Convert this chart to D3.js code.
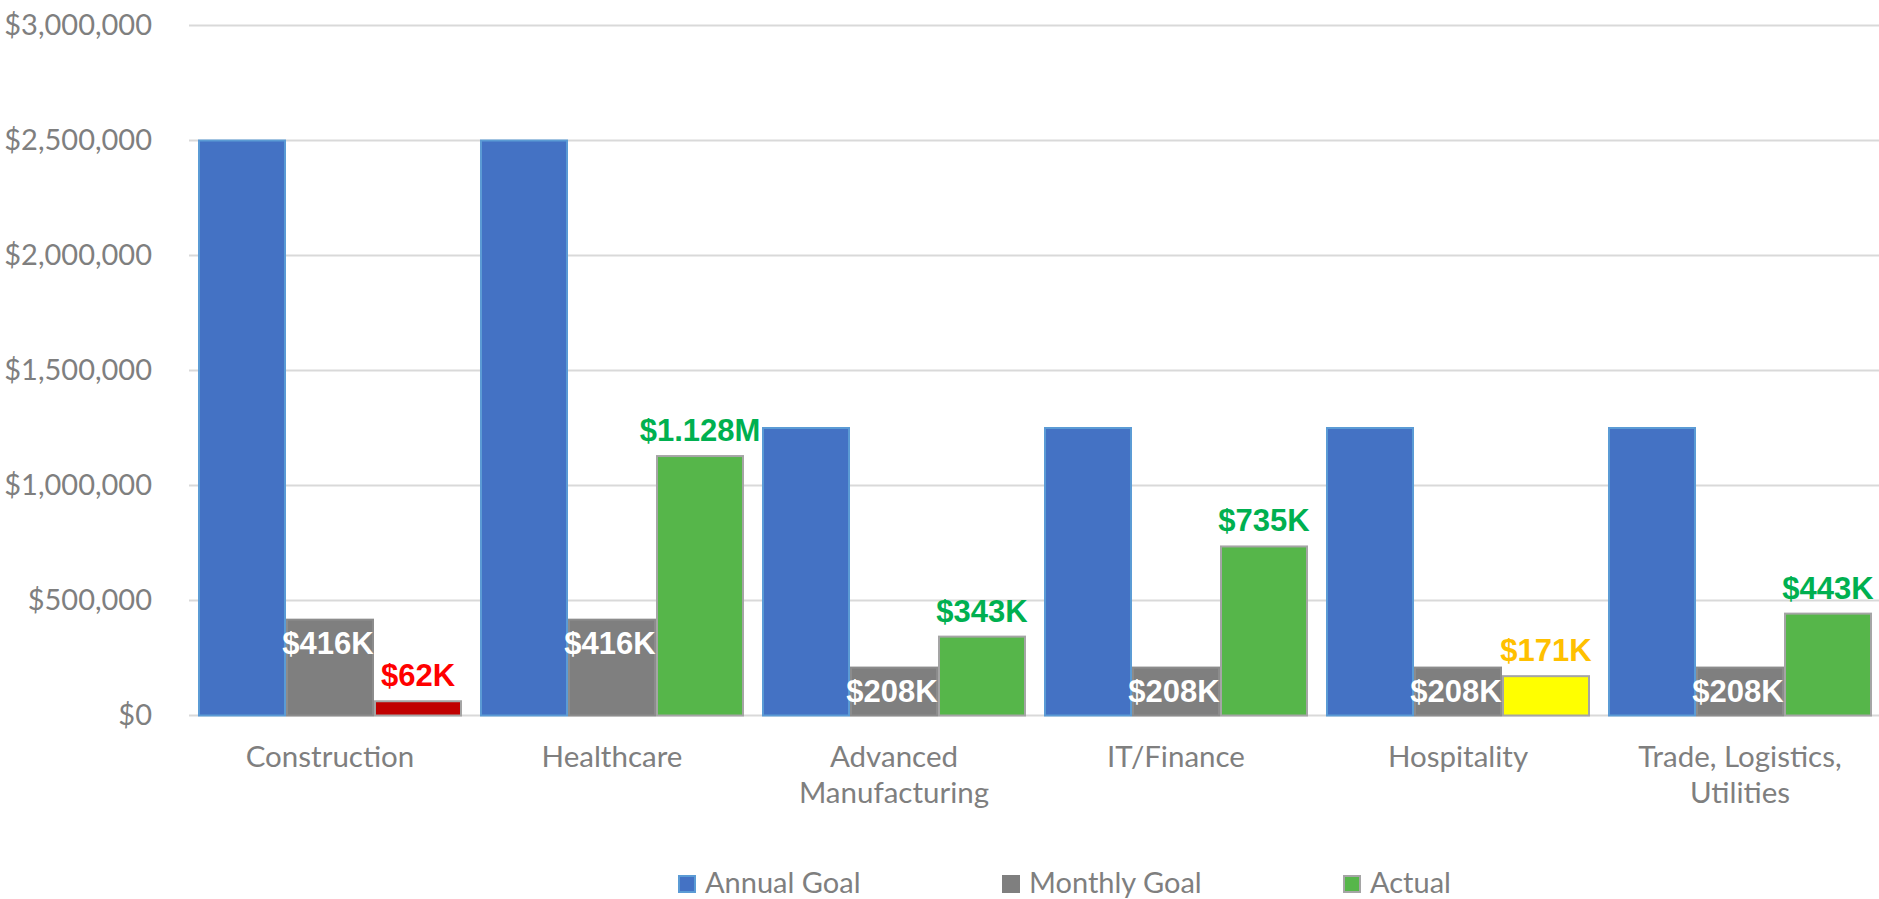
<!DOCTYPE html>
<html>
<head>
<meta charset="utf-8">
<script src="https://cdn.jsdelivr.net/npm/d3@7"></script>
<style>
  body { margin: 0; background: #ffffff; }
  svg { display: block; }
</style>
</head>
<body>
<div class="chart"></div>
<script>
// Données du graphique
const categories = ["Construction", "Healthcare", "Advanced Manufacturing", "IT/Finance", "Hospitality", "Trade, Logistics, Utilities"];
const categoryLines = [["Construction"], ["Healthcare"], ["Advanced", "Manufacturing"], ["IT/Finance"], ["Hospitality"], ["Trade, Logistics,", "Utilities"]];
const seriesNames = ["Annual Goal", "Monthly Goal", "Actual"];
const annualGoal = [2500000, 2500000, 1250000, 1250000, 1250000, 1250000];
const monthlyGoal = [416667, 416667, 208333, 208333, 208333, 208333];
const actual = [62000, 1128000, 343000, 735000, 171000, 443000];
const actualStatus = ["low", "ok", "ok", "ok", "mid", "ok"];
const yTicks = [0, 500000, 1000000, 1500000, 2000000, 2500000, 3000000];

const width = 1879;
const height = 899;

const fillStatus = { low: "#C00000", ok: "#56B64A", mid: "#FFFF00" };
const labelStatus = { low: "#FF0000", ok: "#00B050", mid: "#FFC000" };
const seriesColor = ["#4472C4", "#7F7F7F", "#56B64A"];

const svg = d3.create("svg")
    .attr("width", width)
    .attr("height", height);

const x = d3.scaleBand()
    .domain(categories)
    .range([189, 1881]);

const xInner = d3.scaleBand()
    .domain(seriesNames)
    .range([9, x.bandwidth() - 9]);

const y = d3.scaleLinear()
    .domain([0, 3000000])
    .range([715.5, 25.5]);

// grille horizontale
svg.append("g")
    .selectAll("line")
    .data(yTicks)
    .join("line")
    .attr("x1", 189)
    .attr("x2", width)
    .attr("y1", d => y(d))
    .attr("y2", d => y(d))
    .attr("stroke", "#D9D9D9")
    .attr("stroke-width", 2);

// axe Y (texte seulement)
const yAxis = d3.axisLeft(y)
    .tickValues(yTicks)
    .tickFormat(d => "$" + d3.format(",")(d))
    .tickSize(0)
    .tickPadding(0);

svg.append("g")
    .attr("transform", "translate(152,0)")
    .call(yAxis)
    .call(g => g.select(".domain").remove())
    .call(g => g.selectAll("text")
        .attr("fill", "#7F7F7F")
        .style("font-family", "Lato, 'Open Sans', sans-serif")
        .style("font-size", "29px"));

const fmt = v => v >= 1e6 ? "$" + (v / 1e6).toFixed(3) + "M" : "$" + Math.floor(v / 1000) + "K";

const rows = categories.map((c, i) => ({
    cat: c,
    values: [
        { s: seriesNames[0], v: annualGoal[i], fill: seriesColor[0], stroke: "#5B9BD5" },
        { s: seriesNames[1], v: monthlyGoal[i], fill: seriesColor[1], stroke: "#8C8C8C" },
        { s: seriesNames[2], v: actual[i], fill: fillStatus[actualStatus[i]], stroke: "#A5A5A5", status: actualStatus[i] }
    ]
}));

const groups = svg.append("g")
    .selectAll("g")
    .data(rows)
    .join("g")
    .attr("transform", d => `translate(${x(d.cat)},0)`);

groups.selectAll("rect")
    .data(d => d.values)
    .join("rect")
    .attr("x", d => xInner(d.s) + 1)
    .attr("y", d => y(d.v))
    .attr("width", xInner.bandwidth() - 2)
    .attr("height", d => y(0) - y(d.v))
    .attr("fill", d => d.fill)
    .attr("stroke", d => d.stroke)
    .attr("stroke-width", 2);

// étiquettes objectif mensuel (dedans, en haut)
groups.append("text")
    .attr("x", xInner("Monthly Goal") + xInner.bandwidth() / 2 - 2)
    .attr("y", (d, i) => y(monthlyGoal[i]) + 34)
    .attr("text-anchor", "middle")
    .attr("fill", "#FFFFFF")
    .style("font-family", "'Liberation Sans', Arial, sans-serif")
    .style("font-weight", "bold")
    .style("font-size", "31px")
    .text((d, i) => fmt(monthlyGoal[i]));

// étiquettes réel (au-dessus)
groups.append("text")
    .attr("x", xInner("Actual") + xInner.bandwidth() / 2)
    .attr("y", (d, i) => y(actual[i]) - 15)
    .attr("text-anchor", "middle")
    .attr("fill", (d, i) => labelStatus[actualStatus[i]])
    .style("font-family", "'Liberation Sans', Arial, sans-serif")
    .style("font-weight", "bold")
    .style("font-size", "31px")
    .text((d, i) => fmt(actual[i]));

// libellés catégories
svg.append("g")
    .selectAll("text")
    .data(categories)
    .join("text")
    .attr("x", d => x(d) + x.bandwidth() / 2)
    .attr("y", 767)
    .attr("text-anchor", "middle")
    .attr("fill", "#7F7F7F")
    .style("font-family", "Lato, 'Open Sans', sans-serif")
    .style("font-size", "29.5px")
    .selectAll("tspan")
    .data((d, i) => categoryLines[i])
    .join("tspan")
    .attr("x", function () { return this.parentNode.getAttribute("x"); })
    .attr("dy", (d, i) => i === 0 ? 0 : 36)
    .text(d => d);

// légende
const legendX = [678, 1002, 1343];
const legendFill = ["#4472C4", "#7F7F7F", "#56B64A"];
const legendStroke = ["#5B9BD5", "#7F7F7F", "#A5A5A5"];
const legend = svg.append("g")
    .selectAll("g")
    .data(seriesNames)
    .join("g")
    .attr("transform", (d, i) => `translate(${legendX[i]},875)`);

legend.append("rect")
    .attr("x", 1)
    .attr("y", 1)
    .attr("width", 16)
    .attr("height", 16)
    .attr("fill", (d, i) => legendFill[i])
    .attr("stroke", (d, i) => legendStroke[i])
    .attr("stroke-width", 2);

legend.append("text")
    .attr("x", 27)
    .attr("y", 18)
    .attr("fill", "#7F7F7F")
    .style("font-family", "Lato, 'Open Sans', sans-serif")
    .style("font-size", "29px")
    .text(d => d);

document.querySelector(".chart").appendChild(svg.node());
</script>
</body>
</html>
